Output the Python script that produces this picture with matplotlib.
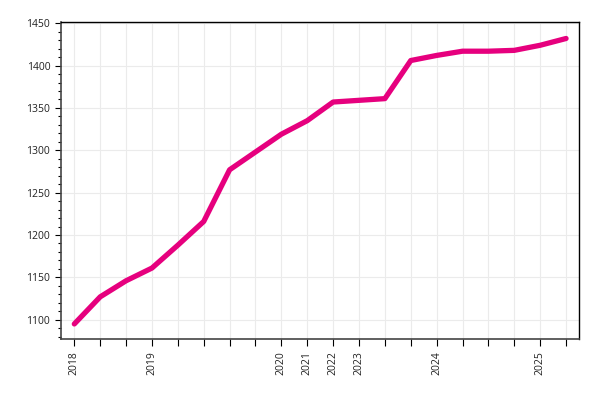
import matplotlib
matplotlib.use("Agg")
import matplotlib.pyplot as plt
from matplotlib.ticker import MultipleLocator

plt.rcParams['font.family'] = ['Open Sans', 'DejaVu Sans']

values = [1095, 1127, 1146, 1161, 1188, 1216, 1277, 1298, 1319, 1335,
          1357, 1359, 1361, 1406, 1412, 1417, 1417, 1418, 1424, 1432]
tick_labels = ['2018', '', '', '2019', '', '', '', '', '2020', '2021',
               '2022', '2023', '', '', '2024', '', '', '', '2025', '']

fig = plt.figure(figsize=(6, 4), dpi=100)
ax = fig.add_axes([0.101, 0.152, 0.864, 0.792])

x = list(range(len(values)))
ax.plot(x, values, color='#E6007E', linewidth=3.8, solid_capstyle='round',
        solid_joinstyle='round', zorder=3)

ax.set_xlim(-0.53, 19.5)
ax.set_ylim(1077, 1451)
ax.set_xticks(x)
ax.set_xticklabels(tick_labels, rotation=90, fontsize=7.5, color='#222222')
ax.yaxis.set_major_locator(MultipleLocator(50))
ax.yaxis.set_minor_locator(MultipleLocator(10))
ax.tick_params(axis='y', labelsize=7.5, labelcolor='#222222', length=4, width=0.8)
ax.tick_params(axis='y', which='minor', length=2, width=0.8)
ax.tick_params(axis='x', length=5, width=0.8)

ax.grid(True, which='major', color='#ebebeb', linewidth=0.8, zorder=0)
ax.set_axisbelow(True)

for s in ['top', 'right']:
    ax.spines[s].set_color('black')
    ax.spines[s].set_linewidth(1.0)
for s in ['left', 'bottom']:
    ax.spines[s].set_color('#444444')
    ax.spines[s].set_linewidth(1.2)

fig.savefig('out.png', dpi=100)
